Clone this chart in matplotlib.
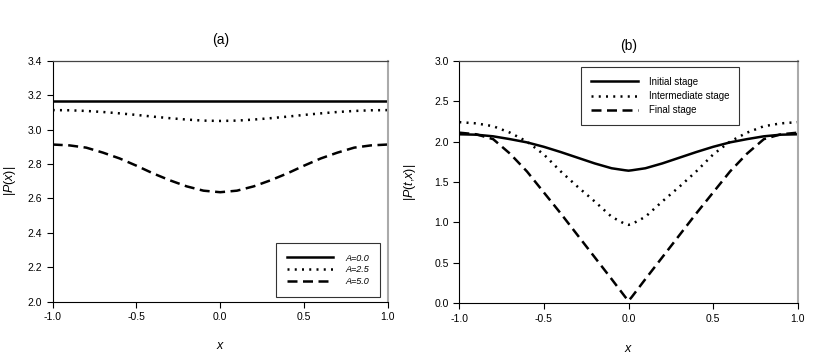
import matplotlib
matplotlib.use('Agg')
import matplotlib.pyplot as plt

plt.rcParams['font.family'] = 'Liberation Sans'
plt.rcParams['mathtext.fontset'] = 'custom'
plt.rcParams['mathtext.it'] = 'Liberation Sans:italic'
plt.rcParams['mathtext.rm'] = 'Liberation Sans'

# panel (a)
xa = [-1.0, -0.9, -0.8, -0.7, -0.6, -0.5, -0.4, -0.3, -0.2, -0.1, 0.0,
      0.1, 0.2, 0.3, 0.4, 0.5, 0.6, 0.7, 0.8, 0.9, 1.0]
a0 = [3.163] * 21
a25 = [3.113, 3.112, 3.108, 3.102, 3.094, 3.085, 3.075, 3.066, 3.058, 3.052, 3.050,
       3.052, 3.058, 3.066, 3.075, 3.085, 3.094, 3.102, 3.108, 3.112, 3.113]
a50 = [2.913, 2.908, 2.895, 2.866, 2.832, 2.790, 2.745, 2.705, 2.670, 2.645, 2.636,
       2.645, 2.670, 2.705, 2.745, 2.790, 2.832, 2.866, 2.895, 2.908, 2.913]
labels_a = ['A=0.0', 'A=2.5', 'A=5.0']

# panel (b)
xb = [-1.0, -0.9, -0.8, -0.7, -0.6, -0.5, -0.4, -0.3, -0.2, -0.1, -0.02, 0.0,
      0.02, 0.1, 0.2, 0.3, 0.4, 0.5, 0.6, 0.7, 0.8, 0.9, 1.0]
initial = [2.09, 2.085, 2.065, 2.03, 1.99, 1.935, 1.87, 1.80, 1.73, 1.67, 1.645, 1.64,
           1.645, 1.67, 1.73, 1.80, 1.87, 1.935, 1.99, 2.03, 2.065, 2.085, 2.09]
intermediate = [2.24, 2.225, 2.19, 2.11, 2.00, 1.84, 1.63, 1.44, 1.26, 1.07, 0.98, 0.97,
                0.98, 1.07, 1.26, 1.44, 1.63, 1.84, 2.00, 2.11, 2.19, 2.225, 2.24]
final = [2.11, 2.09, 2.03, 1.85, 1.63, 1.37, 1.11, 0.84, 0.57, 0.30, 0.08, 0.03,
         0.08, 0.30, 0.57, 0.84, 1.11, 1.37, 1.63, 1.85, 2.03, 2.09, 2.11]
labels_b = ['Initial stage', 'Intermediate stage', 'Final stage']

fig = plt.figure(figsize=(8.3, 3.54), dpi=100)
ax1 = fig.add_axes([52.7/830, 1-301.7/354, 335/830, 241/354])
ax2 = fig.add_axes([459.3/830, 1-303.3/354, 338.4/830, 242.6/354])

styles = [dict(ls='-', lw=1.8),
          dict(ls=(0, (0.8, 2.1)), lw=1.8),
          dict(ls=(0, (4, 2.2)), lw=1.8)]

for ys, lab, st in zip([a0, a25, a50], labels_a, styles):
    ax1.plot(xa, ys, color='black', label=lab, **st)
for ys, lab, st in zip([initial, intermediate, final], labels_b, styles):
    ax2.plot(xb, ys, color='black', label=lab, **st)

for ax in (ax1, ax2):
    ax.set_xlim(-1, 1)
    ax.set_xticks([-1, -0.5, 0, 0.5, 1])
    ax.set_xticklabels(['-1.0', '-0.5', '0.0', '0.5', '1.0'])
    ax.tick_params(direction='out', length=4, width=0.8, labelsize=7.5, color='black')
    ax.spines['left'].set_color('black')
    ax.spines['bottom'].set_color('black')
    ax.spines['top'].set_color('#444444')
    ax.spines['top'].set_linewidth(0.9)
    ax.spines['right'].set_color('#aaaaaa')
    ax.spines['right'].set_linewidth(1.5)
    ax.set_xlabel('$x$', fontsize=9)

ax1.set_ylim(2.0, 3.4)
ax1.set_yticks([2.0, 2.2, 2.4, 2.6, 2.8, 3.0, 3.2, 3.4])
ax1.set_yticklabels(['2.0', '2.2', '2.4', '2.6', '2.8', '3.0', '3.2', '3.4'])
ax1.set_ylabel('|$P$($x$)|', fontsize=9)
ax1.set_title('(a)', fontsize=10, pad=12)
ax1.xaxis.set_label_coords(0.5, -0.16)
ax1.yaxis.set_label_coords(-0.104, 0.5)

ax2.set_ylim(0, 3.0)
ax2.set_yticks([0, 0.5, 1.0, 1.5, 2.0, 2.5, 3.0])
ax2.set_yticklabels(['0.0', '0.5', '1.0', '1.5', '2.0', '2.5', '3.0'])
ax2.set_ylabel('|$P$($t$,$x$)|', fontsize=9)
ax2.set_title('(b)', fontsize=10, pad=8)
ax2.xaxis.set_label_coords(0.5, -0.165)
ax2.yaxis.set_label_coords(-0.122, 0.5)

leg1 = ax1.legend(loc='lower right', bbox_to_anchor=(0.977, 0.02),
                  prop={'style': 'italic', 'size': 6.5}, fancybox=False,
                  edgecolor='black', handlelength=5.1, borderpad=1.2, labelspacing=0.3,
                  handletextpad=1.4, borderaxespad=0)
leg1.get_frame().set_linewidth(0.8)

leg2 = ax2.legend(loc='upper left', bbox_to_anchor=(0.36, 0.974), fontsize=7,
                  fancybox=False, edgecolor='black', handlelength=4.9, borderpad=1.0,
                  labelspacing=0.45, handletextpad=1.1, borderaxespad=0)
leg2.get_frame().set_linewidth(0.8)

fig.savefig('out.png', dpi=100)
